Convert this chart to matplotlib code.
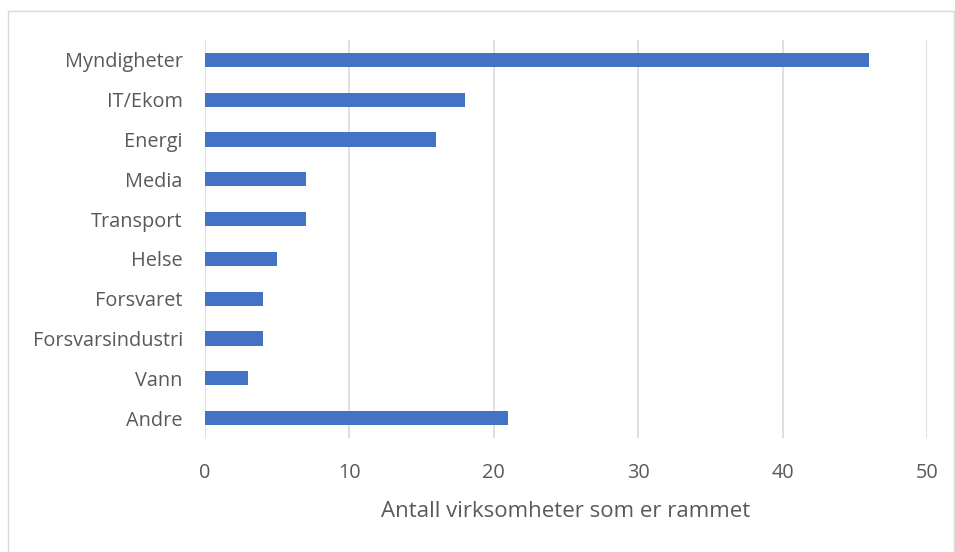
import matplotlib.pyplot as plt
from matplotlib.patches import Rectangle

categories = ['Myndigheter', 'IT/Ekom', 'Energi', 'Media', 'Transport', 'Helse',
              'Forsvaret', 'Forsvarsindustri', 'Vann', 'Andre']
values = [46, 18, 16, 7, 7, 5, 4, 4, 3, 21]
xticks = [0, 10, 20, 30, 40, 50]

plt.rcParams['font.family'] = ['Open Sans', 'DejaVu Sans']

fig = plt.figure(figsize=(9.55, 5.52), dpi=100)
ax = fig.add_axes([0.2147, 0.2065, 0.756, 0.7210])

pos = list(range(len(categories)))
ax.barh(pos, values, height=0.36, color='#4472C4', zorder=3)
ax.set_ylim(len(categories) - 0.5, -0.5)
ax.set_xlim(0, 50)
ax.set_xticks(xticks)
ax.set_yticks(pos)
ax.set_yticklabels(categories)

ax.grid(axis='x', color='#D9D9D9', linewidth=1.2, zorder=0)
for s in ['top', 'right', 'left', 'bottom']:
    ax.spines[s].set_visible(False)
ax.tick_params(axis='both', length=0, labelsize=14.3, colors='#595959')
ax.tick_params(axis='y', pad=16)
ax.tick_params(axis='x', pad=18)
ax.set_xlabel('Antall virksomheter som er rammet', fontsize=16, color='#595959', labelpad=13)

fig.patches.append(Rectangle((0.0085, -0.01), 0.99, 0.99, transform=fig.transFigure,
                             fill=False, edgecolor='#D9D9D9', linewidth=1))

fig.savefig('out.png', dpi=100)
